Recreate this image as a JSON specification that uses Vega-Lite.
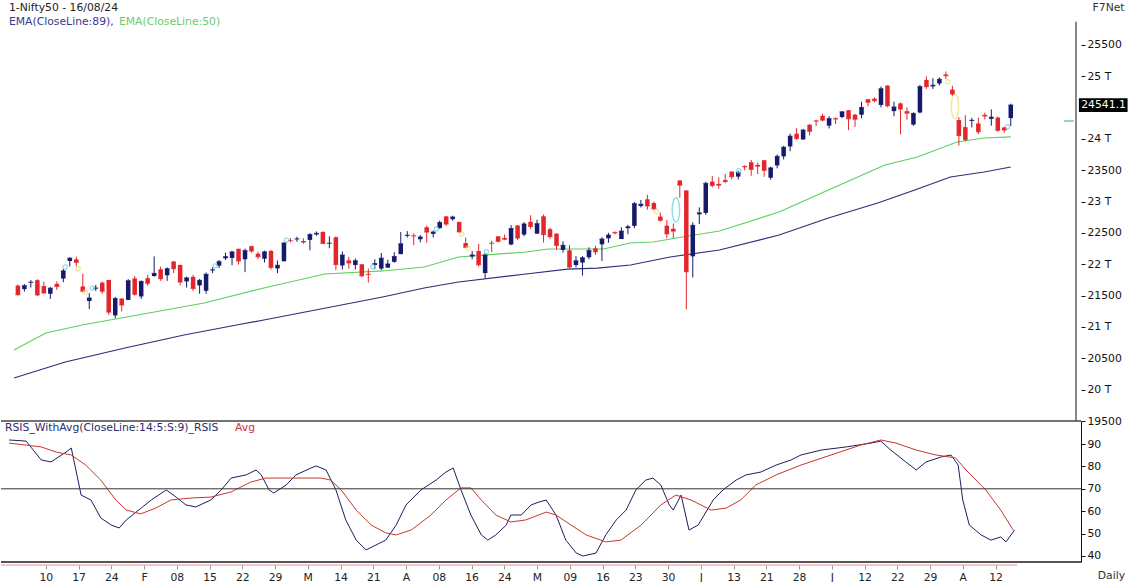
{
  "$schema": "https://vega.github.io/schema/vega-lite/v6.json",
  "padding": 0,
  "background": "white",
  "bounds": "flush",
  "spacing": 0,
  "resolve": {"scale": {"color": "independent"}},
  "config": {
    "view": {"stroke": null},
    "font": "DejaVu Sans",
    "axis": {"labelFont": "DejaVu Sans", "labelFontSize": 10.8, "labelColor": "#111", "domainColor": "#111", "tickColor": "#111", "grid": false},
    "text": {"font": "DejaVu Sans", "fontSize": 10.8}
  },
  "datasets": {
    "candles": [
      {"i":0,"d":"2024-01-03","o":21661,"h":21678,"l":21500,"c":21517},
      {"i":1,"d":"2024-01-04","o":21605,"h":21685,"l":21565,"c":21658},
      {"i":2,"d":"2024-01-05","o":21705,"h":21749,"l":21630,"c":21711},
      {"i":3,"d":"2024-01-08","o":21747,"h":21763,"l":21492,"c":21513},
      {"i":4,"d":"2024-01-09","o":21653,"h":21725,"l":21529,"c":21545},
      {"i":5,"d":"2024-01-10","o":21530,"h":21641,"l":21448,"c":21618},
      {"i":6,"d":"2024-01-11","o":21688,"h":21727,"l":21593,"c":21647},
      {"i":7,"d":"2024-01-12","o":21773,"h":21928,"l":21715,"c":21894},
      {"i":8,"d":"2024-01-15","o":22053,"h":22115,"l":21964,"c":22097},
      {"i":9,"d":"2024-01-16","o":22080,"h":22124,"l":21969,"c":22032},
      {"i":10,"d":"2024-01-17","o":21647,"h":21851,"l":21550,"c":21572},
      {"i":11,"d":"2024-01-18","o":21414,"h":21539,"l":21285,"c":21462},
      {"i":12,"d":"2024-01-19","o":21615,"h":21671,"l":21575,"c":21622},
      {"i":13,"d":"2024-01-20","o":21707,"h":21727,"l":21530,"c":21571},
      {"i":14,"d":"2024-01-23","o":21751,"h":21751,"l":21192,"c":21238},
      {"i":15,"d":"2024-01-24","o":21185,"h":21482,"l":21137,"c":21453},
      {"i":16,"d":"2024-01-25","o":21454,"h":21459,"l":21248,"c":21352},
      {"i":17,"d":"2024-01-29","o":21433,"h":21763,"l":21429,"c":21737},
      {"i":18,"d":"2024-01-30","o":21775,"h":21814,"l":21501,"c":21522},
      {"i":19,"d":"2024-01-31","o":21487,"h":21741,"l":21448,"c":21726},
      {"i":20,"d":"2024-02-01","o":21780,"h":21833,"l":21658,"c":21698},
      {"i":21,"d":"2024-02-02","o":21812,"h":22127,"l":21805,"c":21854},
      {"i":22,"d":"2024-02-05","o":21921,"h":21964,"l":21737,"c":21772},
      {"i":23,"d":"2024-02-06","o":21825,"h":21951,"l":21737,"c":21929},
      {"i":24,"d":"2024-02-07","o":22045,"h":22053,"l":21860,"c":21931},
      {"i":25,"d":"2024-02-08","o":21990,"h":21996,"l":21665,"c":21718},
      {"i":26,"d":"2024-02-09","o":21727,"h":21804,"l":21629,"c":21783},
      {"i":27,"d":"2024-02-12","o":21800,"h":21831,"l":21574,"c":21616},
      {"i":28,"d":"2024-02-13","o":21664,"h":21766,"l":21531,"c":21743},
      {"i":29,"d":"2024-02-14","o":21578,"h":21870,"l":21530,"c":21840},
      {"i":30,"d":"2024-02-15","o":21906,"h":21953,"l":21860,"c":21911},
      {"i":31,"d":"2024-02-16","o":21979,"h":22069,"l":21940,"c":22041},
      {"i":32,"d":"2024-02-19","o":22096,"h":22187,"l":22067,"c":22122},
      {"i":33,"d":"2024-02-20","o":22102,"h":22215,"l":21986,"c":22197},
      {"i":34,"d":"2024-02-21","o":22248,"h":22249,"l":21997,"c":22055},
      {"i":35,"d":"2024-02-22","o":22081,"h":22252,"l":21875,"c":22218},
      {"i":36,"d":"2024-02-23","o":22290,"h":22297,"l":22186,"c":22213},
      {"i":37,"d":"2024-02-26","o":22170,"h":22202,"l":22086,"c":22122},
      {"i":38,"d":"2024-02-27","o":22090,"h":22218,"l":22030,"c":22198},
      {"i":39,"d":"2024-02-28","o":22214,"h":22229,"l":21915,"c":21951},
      {"i":40,"d":"2024-02-29","o":21935,"h":22060,"l":21860,"c":21983},
      {"i":41,"d":"2024-03-01","o":22049,"h":22353,"l":22047,"c":22339},
      {"i":42,"d":"2024-03-02","o":22380,"h":22419,"l":22349,"c":22379},
      {"i":43,"d":"2024-03-04","o":22403,"h":22440,"l":22361,"c":22406},
      {"i":44,"d":"2024-03-05","o":22372,"h":22416,"l":22327,"c":22356},
      {"i":45,"d":"2024-03-06","o":22390,"h":22497,"l":22224,"c":22475},
      {"i":46,"d":"2024-03-07","o":22476,"h":22525,"l":22456,"c":22494},
      {"i":47,"d":"2024-03-11","o":22517,"h":22526,"l":22329,"c":22333},
      {"i":48,"d":"2024-03-12","o":22334,"h":22446,"l":22256,"c":22336},
      {"i":49,"d":"2024-03-13","o":22432,"h":22447,"l":21906,"c":21998},
      {"i":50,"d":"2024-03-14","o":21982,"h":22204,"l":21917,"c":22147},
      {"i":51,"d":"2024-03-15","o":22064,"h":22120,"l":21929,"c":22023},
      {"i":52,"d":"2024-03-18","o":21990,"h":22095,"l":21917,"c":22056},
      {"i":53,"d":"2024-03-19","o":22000,"h":22004,"l":21794,"c":21818},
      {"i":54,"d":"2024-03-20","o":21843,"h":21931,"l":21710,"c":21840},
      {"i":55,"d":"2024-03-21","o":21990,"h":22080,"l":21923,"c":22012},
      {"i":56,"d":"2024-03-22","o":21932,"h":22180,"l":21909,"c":22097},
      {"i":57,"d":"2024-03-26","o":21947,"h":22073,"l":21947,"c":22005},
      {"i":58,"d":"2024-03-27","o":22040,"h":22193,"l":22026,"c":22124},
      {"i":59,"d":"2024-03-28","o":22163,"h":22516,"l":22163,"c":22327},
      {"i":60,"d":"2024-04-01","o":22455,"h":22530,"l":22428,"c":22462},
      {"i":61,"d":"2024-04-02","o":22458,"h":22496,"l":22307,"c":22453},
      {"i":62,"d":"2024-04-03","o":22400,"h":22467,"l":22351,"c":22435},
      {"i":63,"d":"2024-04-04","o":22592,"h":22620,"l":22346,"c":22515},
      {"i":64,"d":"2024-04-05","o":22486,"h":22539,"l":22428,"c":22514},
      {"i":65,"d":"2024-04-08","o":22578,"h":22698,"l":22569,"c":22666},
      {"i":66,"d":"2024-04-09","o":22765,"h":22768,"l":22612,"c":22643},
      {"i":67,"d":"2024-04-10","o":22720,"h":22776,"l":22697,"c":22754},
      {"i":68,"d":"2024-04-12","o":22677,"h":22679,"l":22503,"c":22519},
      {"i":69,"d":"2024-04-15","o":22339,"h":22428,"l":22260,"c":22273},
      {"i":70,"d":"2024-04-16","o":22125,"h":22213,"l":22080,"c":22148},
      {"i":71,"d":"2024-04-18","o":22212,"h":22326,"l":21961,"c":21996},
      {"i":72,"d":"2024-04-19","o":21862,"h":22180,"l":21777,"c":22147},
      {"i":73,"d":"2024-04-22","o":22340,"h":22375,"l":22198,"c":22336},
      {"i":74,"d":"2024-04-23","o":22447,"h":22447,"l":22349,"c":22368},
      {"i":75,"d":"2024-04-24","o":22421,"h":22476,"l":22384,"c":22402},
      {"i":76,"d":"2024-04-25","o":22316,"h":22626,"l":22305,"c":22570},
      {"i":77,"d":"2024-04-26","o":22620,"h":22625,"l":22385,"c":22420},
      {"i":78,"d":"2024-04-29","o":22475,"h":22675,"l":22447,"c":22643},
      {"i":79,"d":"2024-04-30","o":22679,"h":22783,"l":22568,"c":22605},
      {"i":80,"d":"2024-05-02","o":22489,"h":22711,"l":22489,"c":22648},
      {"i":81,"d":"2024-05-03","o":22766,"h":22794,"l":22348,"c":22476},
      {"i":82,"d":"2024-05-06","o":22561,"h":22588,"l":22409,"c":22442},
      {"i":83,"d":"2024-05-07","o":22489,"h":22499,"l":22232,"c":22303},
      {"i":84,"d":"2024-05-08","o":22231,"h":22369,"l":22186,"c":22302},
      {"i":85,"d":"2024-05-09","o":22224,"h":22307,"l":21933,"c":21957},
      {"i":86,"d":"2024-05-10","o":21990,"h":22131,"l":21950,"c":22055},
      {"i":87,"d":"2024-05-13","o":22028,"h":22131,"l":21821,"c":22104},
      {"i":88,"d":"2024-05-14","o":22113,"h":22271,"l":22082,"c":22218},
      {"i":89,"d":"2024-05-15","o":22255,"h":22297,"l":22152,"c":22201},
      {"i":90,"d":"2024-05-16","o":22319,"h":22432,"l":22054,"c":22403},
      {"i":91,"d":"2024-05-17","o":22415,"h":22503,"l":22345,"c":22466},
      {"i":92,"d":"2024-05-18","o":22512,"h":22527,"l":22480,"c":22502},
      {"i":93,"d":"2024-05-21","o":22404,"h":22591,"l":22404,"c":22529},
      {"i":94,"d":"2024-05-22","o":22577,"h":22630,"l":22483,"c":22598},
      {"i":95,"d":"2024-05-23","o":22614,"h":22993,"l":22577,"c":22968},
      {"i":96,"d":"2024-05-24","o":22930,"h":23027,"l":22907,"c":22957},
      {"i":97,"d":"2024-05-27","o":23038,"h":23111,"l":22872,"c":22932},
      {"i":98,"d":"2024-05-28","o":22977,"h":23000,"l":22863,"c":22888},
      {"i":99,"d":"2024-05-29","o":22762,"h":22826,"l":22685,"c":22704},
      {"i":100,"d":"2024-05-30","o":22617,"h":22706,"l":22418,"c":22488},
      {"i":101,"d":"2024-05-31","o":22568,"h":22653,"l":22418,"c":22531},
      {"i":102,"d":"2024-06-03","o":23338,"h":23338,"l":23062,"c":23264},
      {"i":103,"d":"2024-06-04","o":23179,"h":23179,"l":21281,"c":21884},
      {"i":104,"d":"2024-06-05","o":22128,"h":22671,"l":21792,"c":22620},
      {"i":105,"d":"2024-06-06","o":22798,"h":22910,"l":22642,"c":22821},
      {"i":106,"d":"2024-06-07","o":22821,"h":23320,"l":22789,"c":23290},
      {"i":107,"d":"2024-06-10","o":23320,"h":23412,"l":23227,"c":23259},
      {"i":108,"d":"2024-06-11","o":23283,"h":23389,"l":23206,"c":23264},
      {"i":109,"d":"2024-06-12","o":23345,"h":23441,"l":23295,"c":23323},
      {"i":110,"d":"2024-06-13","o":23480,"h":23481,"l":23354,"c":23399},
      {"i":111,"d":"2024-06-14","o":23400,"h":23490,"l":23353,"c":23466},
      {"i":112,"d":"2024-06-18","o":23570,"h":23579,"l":23498,"c":23557},
      {"i":113,"d":"2024-06-19","o":23629,"h":23665,"l":23413,"c":23516},
      {"i":114,"d":"2024-06-20","o":23586,"h":23624,"l":23442,"c":23567},
      {"i":115,"d":"2024-06-21","o":23661,"h":23667,"l":23398,"c":23501},
      {"i":116,"d":"2024-06-24","o":23382,"h":23558,"l":23350,"c":23538},
      {"i":117,"d":"2024-06-25","o":23578,"h":23754,"l":23532,"c":23721},
      {"i":118,"d":"2024-06-26","o":23723,"h":23889,"l":23674,"c":23868},
      {"i":119,"d":"2024-06-27","o":23881,"h":24087,"l":23805,"c":24044},
      {"i":120,"d":"2024-06-28","o":24085,"h":24174,"l":23985,"c":24010},
      {"i":121,"d":"2024-07-01","o":23992,"h":24164,"l":23992,"c":24141},
      {"i":122,"d":"2024-07-02","o":24228,"h":24237,"l":24056,"c":24124},
      {"i":123,"d":"2024-07-03","o":24291,"h":24309,"l":24208,"c":24286},
      {"i":124,"d":"2024-07-04","o":24369,"h":24402,"l":24281,"c":24302},
      {"i":125,"d":"2024-07-05","o":24213,"h":24364,"l":24168,"c":24324},
      {"i":126,"d":"2024-07-08","o":24330,"h":24345,"l":24240,"c":24320},
      {"i":127,"d":"2024-07-09","o":24351,"h":24443,"l":24331,"c":24433},
      {"i":128,"d":"2024-07-10","o":24459,"h":24462,"l":24141,"c":24324},
      {"i":129,"d":"2024-07-11","o":24388,"h":24402,"l":24193,"c":24316},
      {"i":130,"d":"2024-07-12","o":24387,"h":24592,"l":24331,"c":24502},
      {"i":131,"d":"2024-07-15","o":24635,"h":24635,"l":24522,"c":24587},
      {"i":132,"d":"2024-07-16","o":24644,"h":24662,"l":24587,"c":24613},
      {"i":133,"d":"2024-07-18","o":24543,"h":24838,"l":24504,"c":24801},
      {"i":134,"d":"2024-07-19","o":24853,"h":24854,"l":24508,"c":24531},
      {"i":135,"d":"2024-07-22","o":24445,"h":24596,"l":24362,"c":24509},
      {"i":136,"d":"2024-07-23","o":24568,"h":24582,"l":24074,"c":24479},
      {"i":137,"d":"2024-07-24","o":24444,"h":24504,"l":24307,"c":24413},
      {"i":138,"d":"2024-07-25","o":24230,"h":24426,"l":24211,"c":24406},
      {"i":139,"d":"2024-07-26","o":24423,"h":24862,"l":24410,"c":24835},
      {"i":140,"d":"2024-07-29","o":24943,"h":24999,"l":24800,"c":24836},
      {"i":141,"d":"2024-07-30","o":24839,"h":24971,"l":24798,"c":24857},
      {"i":142,"d":"2024-07-31","o":24886,"h":24984,"l":24856,"c":24951},
      {"i":143,"d":"2024-08-01","o":25030,"h":25078,"l":24956,"c":25011},
      {"i":144,"d":"2024-08-02","o":24789,"h":24851,"l":24687,"c":24718},
      {"i":145,"d":"2024-08-05","o":24302,"h":24350,"l":23893,"c":24056},
      {"i":146,"d":"2024-08-06","o":24189,"h":24382,"l":23960,"c":23992},
      {"i":147,"d":"2024-08-07","o":24289,"h":24337,"l":24184,"c":24297},
      {"i":148,"d":"2024-08-08","o":24248,"h":24340,"l":24079,"c":24117},
      {"i":149,"d":"2024-08-09","o":24386,"h":24420,"l":24311,"c":24368},
      {"i":150,"d":"2024-08-12","o":24321,"h":24472,"l":24212,"c":24347},
      {"i":151,"d":"2024-08-13","o":24342,"h":24359,"l":24116,"c":24139},
      {"i":152,"d":"2024-08-14","o":24184,"h":24196,"l":24100,"c":24144},
      {"i":153,"d":"2024-08-16","o":24334,"h":24563,"l":24205,"c":24541}
    ],
    "ema": [
      {"s":"EMA50","i":-0.6,"v":20633},{"s":"EMA50","i":4.3,"v":20904},{"s":"EMA50","i":9.9,"v":21032},{"s":"EMA50","i":18.5,"v":21191},
      {"s":"EMA50","i":28.7,"v":21383},{"s":"EMA50","i":37.9,"v":21622},{"s":"EMA50","i":47.3,"v":21846},{"s":"EMA50","i":56.2,"v":21894},
      {"s":"EMA50","i":62.6,"v":21957},{"s":"EMA50","i":67.9,"v":22117},{"s":"EMA50","i":78.3,"v":22197},{"s":"EMA50","i":81.7,"v":22245},
      {"s":"EMA50","i":90.2,"v":22245},{"s":"EMA50","i":94.4,"v":22340},{"s":"EMA50","i":97.9,"v":22356},{"s":"EMA50","i":102.4,"v":22436},
      {"s":"EMA50","i":108.1,"v":22532},{"s":"EMA50","i":117.3,"v":22835},{"s":"EMA50","i":124.9,"v":23186},{"s":"EMA50","i":133.6,"v":23585},
      {"s":"EMA50","i":138.6,"v":23713},{"s":"EMA50","i":144.7,"v":23952},{"s":"EMA50","i":148.9,"v":24016},{"s":"EMA50","i":153,"v":24035},
      {"s":"EMA89","i":-0.6,"v":20186},{"s":"EMA89","i":7.3,"v":20441},{"s":"EMA89","i":16.5,"v":20665},{"s":"EMA89","i":25.6,"v":20872},
      {"s":"EMA89","i":33.7,"v":21032},{"s":"EMA89","i":37.9,"v":21112},{"s":"EMA89","i":56.2,"v":21479},{"s":"EMA89","i":62.6,"v":21622},
      {"s":"EMA89","i":67.9,"v":21718},{"s":"EMA89","i":78.3,"v":21846},{"s":"EMA89","i":84.7,"v":21925},{"s":"EMA89","i":89.3,"v":21941},
      {"s":"EMA89","i":94.4,"v":21989},{"s":"EMA89","i":100.5,"v":22117},{"s":"EMA89","i":108.1,"v":22229},{"s":"EMA89","i":117.3,"v":22468},
      {"s":"EMA89","i":124.9,"v":22739},{"s":"EMA89","i":132.5,"v":22979},{"s":"EMA89","i":138.2,"v":23186},{"s":"EMA89","i":143.7,"v":23394},
      {"s":"EMA89","i":148.9,"v":23473},{"s":"EMA89","i":153,"v":23553}
    ],
    "rsi": [
      {"s":"RSI","i":-0.6,"v":91.8},{"s":"RSI","i":2.0,"v":91.3},{"s":"RSI","i":4.3,"v":82.9},{"s":"RSI","i":5.8,"v":82.0},
      {"s":"RSI","i":8.1,"v":86.4},{"s":"RSI","i":8.9,"v":88.2},{"s":"RSI","i":10.4,"v":67.2},{"s":"RSI","i":11.9,"v":65.0},
      {"s":"RSI","i":13.4,"v":57.0},{"s":"RSI","i":15.0,"v":53.8},{"s":"RSI","i":16.2,"v":52.5},{"s":"RSI","i":17.3,"v":56.1},
      {"s":"RSI","i":18.8,"v":59.6},{"s":"RSI","i":21.1,"v":65.0},{"s":"RSI","i":23.4,"v":69.5},{"s":"RSI","i":24.9,"v":66.3},
      {"s":"RSI","i":26.4,"v":62.8},{"s":"RSI","i":27.9,"v":61.9},{"s":"RSI","i":30.2,"v":65.0},{"s":"RSI","i":31.8,"v":69.5},
      {"s":"RSI","i":33.3,"v":74.8},{"s":"RSI","i":35.6,"v":76.2},{"s":"RSI","i":37.1,"v":78.4},{"s":"RSI","i":37.9,"v":76.2},
      {"s":"RSI","i":39.1,"v":69.5},{"s":"RSI","i":39.8,"v":68.1},{"s":"RSI","i":41.7,"v":71.7},{"s":"RSI","i":43.2,"v":76.2},
      {"s":"RSI","i":45.5,"v":79.3},{"s":"RSI","i":46.3,"v":80.2},{"s":"RSI","i":47.8,"v":78.4},{"s":"RSI","i":49.3,"v":69.5},
      {"s":"RSI","i":50.8,"v":56.1},{"s":"RSI","i":52.4,"v":47.1},{"s":"RSI","i":53.9,"v":42.7},{"s":"RSI","i":55.4,"v":44.9},
      {"s":"RSI","i":56.9,"v":47.1},{"s":"RSI","i":58.5,"v":53.8},{"s":"RSI","i":60.0,"v":62.8},{"s":"RSI","i":62.3,"v":69.5},
      {"s":"RSI","i":64.6,"v":73.9},{"s":"RSI","i":66.1,"v":77.5},{"s":"RSI","i":67.2,"v":79.3},{"s":"RSI","i":68.4,"v":69.5},
      {"s":"RSI","i":69.9,"v":58.3},{"s":"RSI","i":71.5,"v":49.4},{"s":"RSI","i":72.5,"v":47.1},{"s":"RSI","i":73.7,"v":49.4},
      {"s":"RSI","i":75.3,"v":53.8},{"s":"RSI","i":76.0,"v":58.3},{"s":"RSI","i":77.6,"v":58.3},{"s":"RSI","i":79.1,"v":62.8},
      {"s":"RSI","i":80.3,"v":64.1},{"s":"RSI","i":81.4,"v":65.0},{"s":"RSI","i":82.9,"v":58.3},{"s":"RSI","i":84.4,"v":47.1},
      {"s":"RSI","i":86.0,"v":41.3},{"s":"RSI","i":87.0,"v":40.0},{"s":"RSI","i":89.0,"v":41.3},{"s":"RSI","i":90.5,"v":49.4},
      {"s":"RSI","i":92.1,"v":56.1},{"s":"RSI","i":93.6,"v":60.5},{"s":"RSI","i":95.1,"v":69.5},{"s":"RSI","i":96.6,"v":73.9},
      {"s":"RSI","i":97.7,"v":74.8},{"s":"RSI","i":98.9,"v":71.7},{"s":"RSI","i":100.2,"v":62.8},{"s":"RSI","i":100.8,"v":60.5},
      {"s":"RSI","i":102.0,"v":67.2},{"s":"RSI","i":103.2,"v":51.6},{"s":"RSI","i":104.6,"v":53.8},{"s":"RSI","i":106.9,"v":65.0},
      {"s":"RSI","i":108.4,"v":69.5},{"s":"RSI","i":110.4,"v":73.9},{"s":"RSI","i":111.9,"v":76.2},{"s":"RSI","i":114.2,"v":77.5},
      {"s":"RSI","i":116.5,"v":80.6},{"s":"RSI","i":118.8,"v":82.9},{"s":"RSI","i":120.3,"v":85.1},{"s":"RSI","i":123.4,"v":87.3},
      {"s":"RSI","i":127.2,"v":88.7},{"s":"RSI","i":131.0,"v":90.4},{"s":"RSI","i":132.5,"v":91.3},{"s":"RSI","i":134.0,"v":87.3},
      {"s":"RSI","i":136.3,"v":82.0},{"s":"RSI","i":137.9,"v":78.4},{"s":"RSI","i":139.4,"v":82.0},{"s":"RSI","i":141.7,"v":84.2},
      {"s":"RSI","i":143.2,"v":85.1},{"s":"RSI","i":144.3,"v":80.6},{"s":"RSI","i":145.0,"v":65.0},{"s":"RSI","i":146.0,"v":53.8},
      {"s":"RSI","i":147.8,"v":49.4},{"s":"RSI","i":149.3,"v":47.1},{"s":"RSI","i":150.8,"v":48.5},{"s":"RSI","i":151.6,"v":46.3},
      {"s":"RSI","i":152.9,"v":51.6},
      {"s":"Avg","i":-0.6,"v":90.4},{"s":"Avg","i":4.3,"v":88.7},{"s":"Avg","i":6.6,"v":86.4},{"s":"Avg","i":8.9,"v":85.1},
      {"s":"Avg","i":11.1,"v":80.6},{"s":"Avg","i":13.4,"v":73.9},{"s":"Avg","i":15.7,"v":65.0},{"s":"Avg","i":17.3,"v":60.5},
      {"s":"Avg","i":19.5,"v":58.8},{"s":"Avg","i":21.8,"v":61.4},{"s":"Avg","i":24.1,"v":65.0},{"s":"Avg","i":27.2,"v":65.9},
      {"s":"Avg","i":30.2,"v":66.3},{"s":"Avg","i":33.3,"v":68.6},{"s":"Avg","i":36.3,"v":73.0},{"s":"Avg","i":38.6,"v":74.8},
      {"s":"Avg","i":42.4,"v":74.8},{"s":"Avg","i":47.0,"v":74.8},{"s":"Avg","i":48.5,"v":73.9},{"s":"Avg","i":50.1,"v":69.5},
      {"s":"Avg","i":52.4,"v":60.5},{"s":"Avg","i":54.7,"v":53.8},{"s":"Avg","i":56.9,"v":50.3},{"s":"Avg","i":58.5,"v":49.4},
      {"s":"Avg","i":60.8,"v":51.6},{"s":"Avg","i":63.8,"v":58.3},{"s":"Avg","i":66.1,"v":65.0},{"s":"Avg","i":68.4,"v":70.4},
      {"s":"Avg","i":69.9,"v":70.4},{"s":"Avg","i":71.5,"v":65.0},{"s":"Avg","i":73.7,"v":58.3},{"s":"Avg","i":76.0,"v":55.2},
      {"s":"Avg","i":78.3,"v":56.1},{"s":"Avg","i":81.4,"v":59.6},{"s":"Avg","i":82.9,"v":58.3},{"s":"Avg","i":85.2,"v":53.8},
      {"s":"Avg","i":87.5,"v":49.4},{"s":"Avg","i":90.5,"v":46.3},{"s":"Avg","i":92.8,"v":47.1},{"s":"Avg","i":95.9,"v":53.8},
      {"s":"Avg","i":98.9,"v":62.8},{"s":"Avg","i":101.2,"v":67.2},{"s":"Avg","i":103.5,"v":65.0},{"s":"Avg","i":106.6,"v":60.5},
      {"s":"Avg","i":108.9,"v":61.4},{"s":"Avg","i":111.1,"v":65.0},{"s":"Avg","i":113.4,"v":71.7},{"s":"Avg","i":116.5,"v":76.2},
      {"s":"Avg","i":120.3,"v":80.6},{"s":"Avg","i":124.9,"v":85.1},{"s":"Avg","i":129.5,"v":89.6},{"s":"Avg","i":132.5,"v":91.8},
      {"s":"Avg","i":134.8,"v":90.4},{"s":"Avg","i":137.9,"v":87.3},{"s":"Avg","i":140.9,"v":85.1},{"s":"Avg","i":143.9,"v":83.8},
      {"s":"Avg","i":145.5,"v":78.4},{"s":"Avg","i":148.5,"v":69.5},{"s":"Avg","i":150.8,"v":60.5},{"s":"Avg","i":152.7,"v":51.6}
    ],
    "gapDots": [
      {"i":7.3,"p":21957,"k":"up"},{"i":9.3,"p":21930,"k":"down"},{"i":10.4,"p":21558,"k":"down"},{"i":11.5,"p":21622,"k":"up"},
      {"i":30.4,"p":21975,"k":"up"},{"i":41.4,"p":22388,"k":"up"},{"i":54.7,"p":21962,"k":"up"},{"i":64.5,"p":22564,"k":"up"},
      {"i":68.4,"p":22479,"k":"down"},{"i":69.4,"p":22256,"k":"down"},{"i":72.2,"p":22201,"k":"up"},{"i":98.4,"p":22840,"k":"down"},
      {"i":111.1,"p":23494,"k":"up"},{"i":143.3,"p":24914,"k":"down"},{"i":152.5,"p":24196,"k":"up"}
    ],
    "gapOvals": [
      {"i":101.4,"p":22867,"k":"up"},
      {"i":144.4,"p":24515,"k":"down"}
    ]
  },
  "vconcat": [
    {
      "width": 1080,
      "height": 421,
      "layer": [
        {
          "data": {"name": "ema"},
          "mark": {"type": "line", "strokeWidth": 1.2},
          "encoding": {
            "x": {"field": "i", "type": "quantitative", "scale": {"domain": [-1.832, 163.05], "nice": false, "zero": false}, "axis": null},
            "y": {"field": "v", "type": "quantitative", "title": null, "scale": {"domain": [19500, 26218], "nice": false, "zero": false},
                  "axis": {"orient": "right", "title": null, "values": [19500,20000,20500,21000,21500,22000,22500,23000,23500,24000,25000,25500],
                           "tickCount": 100,
                           "labelExpr": "datum.value % 1000 == 0 ? (datum.value / 1000) + ' T' : '' + datum.value",
                           "domain": false, "tickSize": 4, "labelPadding": 2, "labelOverlap": false}},
            "color": {"field": "s", "type": "nominal", "scale": {"domain": ["EMA89", "EMA50"], "range": ["#2d2d7c", "#5fcf5f"]}, "legend": null}
          }
        },
        {
          "data": {"name": "candles"},
          "mark": {"type": "rule", "strokeWidth": 1},
          "encoding": {
            "x": {"field": "i", "type": "quantitative"},
            "y": {"field": "l", "type": "quantitative", "title": null},
            "y2": {"field": "h"},
            "color": {"condition": {"test": "datum.c >= datum.o", "value": "#151a6b"}, "value": "#e3262b"}
          }
        },
        {
          "data": {"name": "candles"},
          "mark": {"type": "bar", "size": 4.5},
          "encoding": {
            "x": {"field": "i", "type": "quantitative"},
            "y": {"field": "o", "type": "quantitative", "title": null},
            "y2": {"field": "c"},
            "color": {"condition": {"test": "datum.c >= datum.o", "value": "#151a6b"}, "value": "#e3262b"}
          }
        },
        {
          "data": {"name": "candles"},
          "mark": {"type": "tick", "orient": "horizontal", "size": 5, "thickness": 1.2},
          "encoding": {
            "x": {"field": "i", "type": "quantitative"},
            "y": {"field": "c", "type": "quantitative", "title": null},
            "color": {"condition": {"test": "datum.c >= datum.o", "value": "#151a6b"}, "value": "#e3262b"}
          }
        },
        {
          "data": {"name": "gapDots"},
          "mark": {"type": "point", "shape": "circle", "filled": false, "size": 18, "strokeWidth": 1.2},
          "encoding": {
            "x": {"field": "i", "type": "quantitative"},
            "y": {"field": "p", "type": "quantitative", "title": null},
            "color": {"condition": {"test": "datum.k == 'up'", "value": "#6cd0e0"}, "value": "#f0e070"}
          }
        },
        {
          "data": {"name": "gapOvals"},
          "mark": {"type": "point", "shape": "M0,-1A0.3,1,0,1,1,0,1A0.3,1,0,1,1,0,-1Z", "filled": false, "size": 600, "strokeWidth": 1.5},
          "encoding": {
            "x": {"field": "i", "type": "quantitative"},
            "y": {"field": "p", "type": "quantitative", "title": null},
            "color": {"condition": {"test": "datum.k == 'up'", "value": "#6cd0e0"}, "value": "#f0e070"}
          }
        },
        {
          "data": {"values": [{}]},
          "mark": {"type": "rule", "color": "#111", "strokeWidth": 1},
          "encoding": {"x": {"datum": 163.05}, "y": {"datum": 19500, "title": null}, "y2": {"datum": 25870}}
        },
        {
          "data": {"values": [{}]},
          "mark": {"type": "rule", "color": "#3a9ab0", "strokeWidth": 1},
          "encoding": {"x": {"datum": 161.2}, "x2": {"datum": 162.7}, "y": {"datum": 24287, "title": null}}
        },
        {
          "data": {"values": [{}]},
          "mark": {"type": "rect", "color": "#000"},
          "encoding": {"x": {"datum": 163.5}, "x2": {"datum": 171}, "y": {"datum": 24651, "title": null}, "y2": {"datum": 24431}}
        },
        {
          "data": {"values": [{}]},
          "mark": {"type": "text", "align": "left", "baseline": "middle", "color": "#fff"},
          "encoding": {"x": {"datum": 163.85}, "y": {"datum": 24541, "title": null}, "text": {"value": "24541.1"}}
        },
        {
          "data": {"values": [{}]},
          "mark": {"type": "text", "align": "left", "baseline": "middle", "color": "#222"},
          "encoding": {"x": {"datum": -1.374}, "y": {"datum": 26090, "title": null}, "text": {"value": "1-Nifty50 - 16/08/24"}}
        },
        {
          "data": {"values": [{}]},
          "mark": {"type": "text", "align": "left", "baseline": "middle", "color": "#3a3a90"},
          "encoding": {"x": {"datum": -1.374}, "y": {"datum": 25867, "title": null}, "text": {"value": "EMA(CloseLine:89),"}}
        },
        {
          "data": {"values": [{}]},
          "mark": {"type": "text", "align": "left", "baseline": "middle", "color": "#6ccc6c"},
          "encoding": {"x": {"datum": 15.57}, "y": {"datum": 25867, "title": null}, "text": {"value": "EMA(CloseLine:50)"}}
        },
        {
          "data": {"values": [{}]},
          "mark": {"type": "text", "align": "left", "baseline": "middle", "color": "#333"},
          "encoding": {"x": {"datum": 165.6}, "y": {"datum": 26090, "title": null}, "text": {"value": "F7Net"}}
        }
      ]
    },
    {
      "width": 1080,
      "height": 141,
      "layer": [
        {
          "data": {"name": "rsi"},
          "mark": {"type": "line", "strokeWidth": 1},
          "encoding": {
            "x": {"field": "i", "type": "quantitative", "title": null, "scale": {"domain": [-1.832, 163.05], "nice": false, "zero": false},
                  "axis": {"orient": "bottom", "title": null, "values": [5,10,15,20,25,30,35,40,45,50,55,60,65,70,75,80,85,90,95,100,105,110,115,120,125,130,135,140,145,150],
                           "tickCount": 100,
                           "labelExpr": "['10','17','24','F','08','15','22','29','M','14','21','A','08','16','24','M','09','16','23','30','J','13','21','28','J','12','22','29','A','12'][(datum.value - 5) / 5]",
                           "labelOverlap": false, "domain": false, "tickSize": 4, "tickColor": "#999", "offset": 3, "labelPadding": 2, "labelColor": "#222"}},
            "y": {"field": "v", "type": "quantitative", "title": null, "scale": {"domain": [37.32, 100.27], "nice": false, "zero": false},
                  "axis": {"orient": "right", "title": null, "values": [40,50,60,70,80,90], "format": "d", "tickCount": 100, "domain": true, "tickSize": 4, "labelPadding": 2, "labelOverlap": false}},
            "color": {"field": "s", "type": "nominal", "scale": {"domain": ["RSI", "Avg"], "range": ["#1e1e5e", "#c8372d"]}, "legend": null}
          }
        },
        {
          "data": {"values": [{}]},
          "mark": {"type": "rule", "color": "#333", "strokeWidth": 1},
          "encoding": {"y": {"datum": 70, "title": null}}
        },
        {
          "data": {"values": [{}]},
          "mark": {"type": "rule", "color": "#444", "strokeWidth": 1.5},
          "encoding": {"y": {"datum": 100.27, "title": null}}
        },
        {
          "data": {"values": [{}]},
          "mark": {"type": "rule", "color": "#555", "strokeWidth": 2},
          "encoding": {"y": {"datum": 37.32, "title": null}}
        },
        {
          "data": {"values": [{}]},
          "mark": {"type": "rule", "color": "#e59090", "strokeWidth": 1},
          "encoding": {"x": {"datum": -1.832, "title": null}, "x2": {"datum": 153.3}, "y": {"datum": 35.98, "title": null}}
        },
        {
          "data": {"values": [{}]},
          "mark": {"type": "text", "align": "left", "baseline": "middle", "color": "#2c2c6c"},
          "encoding": {"x": {"datum": -1.22, "title": null}, "y": {"datum": 97.15, "title": null}, "text": {"value": "RSIS_WithAvg(CloseLine:14:5:S:9)_RSIS"}}
        },
        {
          "data": {"values": [{}]},
          "mark": {"type": "text", "align": "left", "baseline": "middle", "color": "#cc3333"},
          "encoding": {"x": {"datum": 33.9, "title": null}, "y": {"datum": 97.15, "title": null}, "text": {"value": "Avg"}}
        },
        {
          "data": {"values": [{}]},
          "mark": {"type": "text", "align": "left", "baseline": "middle", "color": "#333"},
          "encoding": {"x": {"datum": 165.6, "title": null}, "y": {"datum": 31.07, "title": null}, "text": {"value": "Daily"}}
        }
      ]
    }
  ]
}
